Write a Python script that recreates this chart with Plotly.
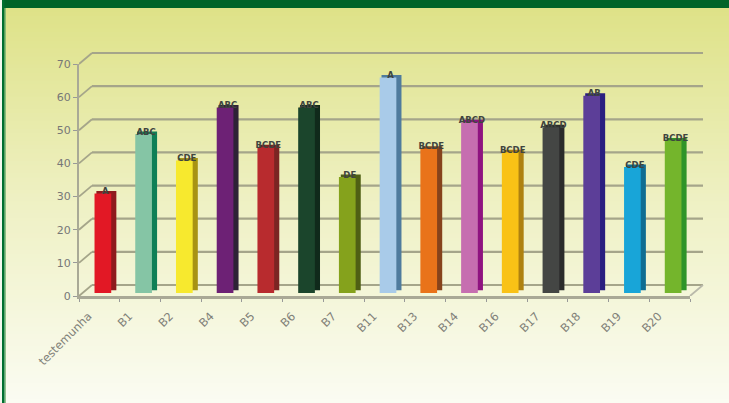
import plotly.graph_objects as go

W, H = 729, 403
categories = ["testemunha", "B1", "B2", "B4", "B5", "B6", "B7", "B11", "B13", "B14", "B16", "B17", "B18", "B19", "B20"]
values = [30, 48, 40, 56, 44, 56, 35, 65, 43.5, 51.5, 42.5, 50, 59.5, 38, 46]
letters = ["A", "ABC", "CDE", "ABC", "BCDE", "ABC", "DE", "A", "BCDE", "ABCD", "BCDE", "ABCD", "AB", "CDE", "BCDE"]
front_colors = ["#e21825", "#85c5a5", "#f7e92e", "#6d2175", "#b82b2e", "#1b452c", "#85a21c", "#a9cbe9", "#e9731a", "#c66eb0", "#f9c216", "#444644", "#5c3e98", "#18a5d8", "#74b52c"]
side_colors = ["#8f1a1d", "#0f7f56", "#a89313", "#2e2236", "#7b2523", "#102a1b", "#4f5f14", "#4f7b9d", "#86431c", "#8f1380", "#ae8110", "#2b2c2b", "#2a1f80", "#0f6d92", "#2f9428"]
y_ticks = [0, 10, 20, 30, 40, 50, 60, 70]
top_colors = (222, 226, 134)
mid_colors = (239, 241, 196)
bottom_colors = (251, 252, 242)

# plot geometry in pixels
x0, x1 = 79, 690
y_base, y_top = 296, 64
depth_px_x, depth_px_y = 13, 11
pad_px = 4
def xdom(dx): return [(x0 + dx) / W, (x1 + dx) / W]
def ydom(dy): return [(H - y_base + dy) / H, (H - y_top + dy) / H]

fig = go.Figure()
n = len(categories)
xr = [-0.5, n - 0.5]
yr = [0, 70]
cat_axis = dict(range=xr, type="category", categoryorder="array", categoryarray=categories)

# depth of the back wall, in data units
x_unit = (x1 - x0) / n
y_unit = (y_base - y_top) / 70
depth_x = depth_px_x / x_unit
depth_y = depth_px_y / y_unit

# back wall gridlines and depth connectors, on a hidden subplot big enough to hold them
gx, gy, cx, cy = [], [], [], []
for v in y_ticks:
    gx += [depth_x, n + depth_x, None]
    gy += [v + depth_y, v + depth_y, None]
    cx += [0, depth_x, None]
    cy += [v, v + depth_y, None]
fig.add_trace(go.Scatter(x=gx, y=gy, mode="lines", line=dict(color="#a5a58a", width=2.2),
                         hoverinfo="skip", xaxis="x", yaxis="y"))
fig.add_trace(go.Scatter(x=cx, y=cy, mode="lines", line=dict(color="#a5a58a", width=1.8),
                         hoverinfo="skip", xaxis="x", yaxis="y"))
fig.add_trace(go.Scatter(x=[n, n + depth_x], y=[0, depth_y], mode="lines", line=dict(color="#b9b9aa", width=1.8),
                         hoverinfo="skip", xaxis="x", yaxis="y"))
# side faces (shifted bars)
fig.add_trace(go.Bar(x=categories, y=values, marker=dict(color=side_colors, line_width=0), width=0.49,
                     xaxis="x2", yaxis="y2", hoverinfo="skip"))
# front faces
fig.add_trace(go.Bar(x=categories, y=values, marker=dict(color=front_colors, line_width=0), width=0.41,
                     xaxis="x3", yaxis="y3"))
# category labels, on their own axis
fig.add_trace(go.Scatter(x=categories, y=values, mode="markers", marker=dict(opacity=0), hoverinfo="skip", xaxis="x4", yaxis="y6"))
# significance letters
fig.add_trace(go.Scatter(x=categories, y=values, mode="text", text=letters, textposition="middle center", cliponaxis=False,
                         textfont=dict(family="DejaVu Sans", size=8.5, color="#3f443f", weight="bold"),
                         hoverinfo="skip", xaxis="x5", yaxis="y5"))
# axis frame (ticks on category boundaries)
fig.add_trace(go.Scatter(x=[0, n], y=[0, 70], mode="markers", marker=dict(opacity=0), hoverinfo="skip", xaxis="x6", yaxis="y6"))

# background gradient (overlapping bands, so no seams)
bands = 100
for i in range(bands):
    t = i / (bands - 1)
    if t < 0.5:
        c = [top_colors[k] + (mid_colors[k] - top_colors[k]) * t / 0.5 for k in range(3)]
    else:
        c = [mid_colors[k] + (bottom_colors[k] - mid_colors[k]) * (t - 0.5) / 0.5 for k in range(3)]
    fig.add_shape(type="rect", xref="paper", yref="paper", x0=0, x1=1,
                  y0=0, y1=1 - i / bands, layer="below", line_width=0,
                  fillcolor="rgb(%d,%d,%d)" % tuple(c))
# frame
fig.add_shape(type="rect", xref="paper", yref="paper", x0=0, x1=2 / W, y0=0, y1=1, line_width=0, fillcolor="#f4f8ee", layer="below")
fig.add_shape(type="rect", xref="paper", yref="paper", x0=4.5 / W, x1=6 / W, y0=0, y1=1, line_width=0, fillcolor="rgba(110,175,110,0.75)", layer="below")
fig.add_shape(type="rect", xref="paper", yref="paper", x0=2 / W, x1=1, y0=1 - 8 / H, y1=1, line_width=0, fillcolor="#006428", layer="below")
fig.add_shape(type="rect", xref="paper", yref="paper", x0=2 / W, x1=4.5 / W, y0=0, y1=1, line_width=0, fillcolor="#006f30", layer="below")

hidden = dict(visible=False, fixedrange=True)
fig.update_layout(
    width=W, height=H, margin=dict(l=0, r=0, t=0, b=0, pad=0, autoexpand=False), autosize=False, showlegend=False,
    paper_bgcolor="rgba(0,0,0,0)", plot_bgcolor="rgba(0,0,0,0)", barmode="overlay",
    font=dict(family="DejaVu Sans", color="#777", size=11),
    xaxis=dict(domain=[x0 / W, (x1 + depth_px_x + pad_px) / W], range=[0, n + depth_x + pad_px / x_unit], anchor="y", **hidden),
    yaxis=dict(domain=[(H - y_base) / H, (H - y_top + depth_px_y + pad_px) / H], range=[0, 70 + depth_y + pad_px / y_unit], anchor="x", **hidden),
    xaxis2=dict(domain=xdom(7), anchor="y2", **cat_axis, **hidden),
    yaxis2=dict(domain=ydom(5.5), range=yr, anchor="x2", **hidden),
    xaxis3=dict(domain=xdom(3.5), anchor="y3", **cat_axis, **hidden),
    yaxis3=dict(domain=ydom(3), range=yr, anchor="x3", **hidden),
    xaxis4=dict(domain=xdom(-11), anchor="y6", showgrid=False, zeroline=False, showline=False, ticks="outside", ticklen=8,
                tickcolor="rgba(0,0,0,0)", tickangle=-45, tickfont=dict(size=11.5, color="#808078"), fixedrange=True, **cat_axis),
    xaxis5=dict(domain=xdom(6), anchor="y5", **cat_axis, **hidden),
    yaxis5=dict(domain=ydom(4.5), range=yr, anchor="x5", **hidden),
    xaxis6=dict(domain=xdom(0), range=[0, n], tickvals=list(range(n + 1)), showticklabels=False,
                showgrid=False, zeroline=False, showline=True, linecolor="#a9a996", linewidth=2.5,
                ticks="outside", ticklen=3, tickcolor="#999", anchor="y6", fixedrange=True),
    yaxis6=dict(domain=ydom(0), range=yr, tickvals=y_ticks, showgrid=False, showline=True, linecolor="#a9a996",
                linewidth=2, ticks="outside", ticklen=4, tickcolor="#999", zeroline=False,
                tickfont=dict(size=11, color="#777"), anchor="x6", fixedrange=True),
)
fig.write_html("out.html", config=dict(displayModeBar=False), post_script="document.body.style.margin='0';document.body.style.overflow='hidden';")
